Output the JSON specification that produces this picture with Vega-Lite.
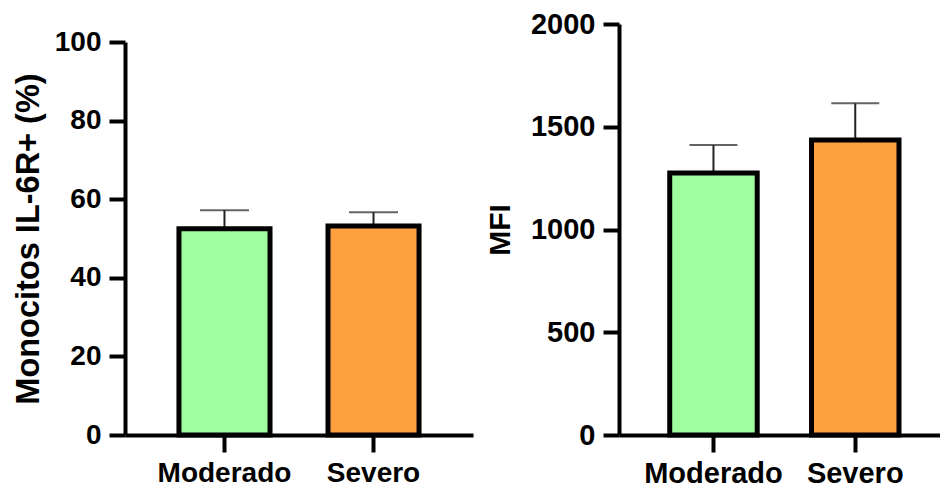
{
  "$schema": "https://vega.github.io/schema/vega-lite/v6.json",
  "background": "white",
  "padding": {"left": 12, "top": 10, "right": 0, "bottom": 0},
  "autosize": {"type": "pad"},
  "bounds": "flush",
  "spacing": 146,
  "config": {
    "view": {"stroke": null},
    "font": "Liberation Sans",
    "axis": {
      "domainColor": "black",
      "domainWidth": 4,
      "tickColor": "black",
      "tickWidth": 4,
      "labelColor": "black",
      "labelFont": "Liberation Sans",
      "labelFontWeight": "bold",
      "titleFont": "Liberation Sans",
      "titleFontWeight": "bold",
      "titleColor": "black",
      "grid": false
    }
  },
  "datasets": {
    "il6r": [
      {"group": "Moderado", "mean": 52.5, "upper": 57.2},
      {"group": "Severo", "mean": 53.2, "upper": 56.7}
    ],
    "mfi": [
      {"group": "Moderado", "mean": 1275, "upper": 1411},
      {"group": "Severo", "mean": 1435, "upper": 1614}
    ]
  },
  "hconcat": [
    {
      "width": 348,
      "height": 411,
      "data": {"name": "il6r"},
      "encoding": {
        "x": {
          "field": "group",
          "type": "nominal",
          "sort": null,
          "scale": {"paddingInner": 0.389, "paddingOuter": 0.362},
          "axis": {"title": null, "labelAngle": 0, "tickSize": 17, "labelPadding": 7.6, "labelFontSize": 28}
        }
      },
      "layer": [
        {
          "mark": {"type": "rule", "color": "#222222", "strokeWidth": 2},
          "encoding": {
            "y": {
              "field": "mean",
              "type": "quantitative",
              "title": "Monocitos IL-6R+ (%)",
              "scale": {"domain": [0, 100], "range": [411, 18], "nice": false},
              "axis": {
                "values": [0, 20, 40, 60, 80, 100],
                "format": "d",
                "tickSize": 16,
                "labelPadding": 8,
                "labelFontSize": 28,
                "titleFontSize": 32.5,
                "titlePadding": 9
              }
            },
            "y2": {"field": "upper"}
          }
        },
        {
          "mark": {"type": "tick", "orient": "horizontal", "size": 49, "thickness": 2, "color": "#222222"},
          "encoding": {"y": {"field": "upper", "type": "quantitative", "title": "Monocitos IL-6R+ (%)"}}
        },
        {
          "mark": {"type": "bar", "stroke": "black", "strokeWidth": 5},
          "encoding": {
            "y": {"field": "mean", "type": "quantitative", "title": "Monocitos IL-6R+ (%)"},
            "fill": {
              "field": "group",
              "type": "nominal",
              "scale": {"domain": ["Moderado", "Severo"], "range": ["#9FFF9F", "#FFA040"]},
              "legend": null
            }
          }
        }
      ]
    },
    {
      "width": 322,
      "height": 411,
      "data": {"name": "mfi"},
      "encoding": {
        "x": {
          "field": "group",
          "type": "nominal",
          "sort": null,
          "scale": {"paddingInner": 0.383, "paddingOuter": 0.327, "align": 0.547},
          "axis": {"title": null, "labelAngle": 0, "tickSize": 17, "labelPadding": 7, "labelFontSize": 29}
        }
      },
      "layer": [
        {
          "mark": {"type": "rule", "color": "#222222", "strokeWidth": 2},
          "encoding": {
            "y": {
              "field": "mean",
              "type": "quantitative",
              "title": "MFI",
              "scale": {"domain": [0, 2000], "nice": false},
              "axis": {
                "values": [0, 500, 1000, 1500, 2000],
                "format": "d",
                "tickSize": 16,
                "labelPadding": 8,
                "labelFontSize": 29,
                "titleFontSize": 30,
                "titlePadding": 15
              }
            },
            "y2": {"field": "upper"}
          }
        },
        {
          "mark": {"type": "tick", "orient": "horizontal", "size": 48, "thickness": 2, "color": "#222222"},
          "encoding": {"y": {"field": "upper", "type": "quantitative", "title": "MFI"}}
        },
        {
          "mark": {"type": "bar", "stroke": "black", "strokeWidth": 5},
          "encoding": {
            "y": {"field": "mean", "type": "quantitative", "title": "MFI"},
            "fill": {
              "field": "group",
              "type": "nominal",
              "scale": {"domain": ["Moderado", "Severo"], "range": ["#9FFF9F", "#FFA040"]},
              "legend": null
            }
          }
        }
      ]
    }
  ],
  "resolve": {"scale": {"fill": "independent"}}
}
